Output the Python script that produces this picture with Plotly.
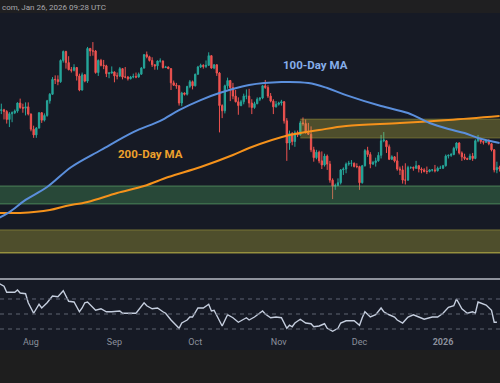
import math
import pandas as pd
import plotly.graph_objects as go

# ---------------- daily candles (Jul 20 2025 .. Jan 22 2026) ----------------
opens = [
    3590, 3755, 3765, 3740, 3620, 3705, 3720, 3745, 3870, 3800, 3790, 3810,
    3700, 3480, 3400, 3495, 3720, 3610, 3680, 3905, 4010, 4260, 4255, 4220, 4600, 4770, 4560, 4430,
    4420, 4470, 4320, 4080, 4340, 4230, 4830, 4780, 4780, 4380, 4600, 4510, 4500, 4360, 4370,
    4390, 4320, 4320, 4450, 4300, 4300, 4270, 4300, 4310, 4300, 4350, 4460, 4710, 4670, 4600,
    4520, 4500, 4590, 4590, 4470, 4480, 4450, 4200, 4160, 4150, 3870, 4030, 4010, 4140, 4220,
    4150, 4350, 4480, 4510, 4490, 4510, 4690, 4460, 4520, 4370, 3830, 3750, 4150, 4240, 4120,
    3980, 3890, 3830, 3890, 3980, 3980, 3870, 3800, 3860, 3930, 3950, 4150, 4120, 3980, 3900, 3810,
    3850, 3870, 3890, 3600, 3290, 3420, 3310, 3430, 3400, 3570, 3560, 3430, 3410, 3200, 3100,
    3170, 3060, 3010, 3120, 3020, 2830, 2760, 2770, 2800, 2950, 2960, 3020, 3030, 3030, 2990,
    2990, 2800, 3000, 3190, 3140, 3020, 3040, 3060, 3130, 3320, 3320, 3240, 3080, 3110, 3060,
    2960, 2950, 2830, 2830, 2980, 2980, 2970, 3000, 2960, 2950, 2930, 2930, 2950, 2950, 2940, 2970,
    2970, 3000, 3120, 3130, 3140, 3220, 3290, 3160, 3110, 3090, 3080, 3120, 3090, 3320, 3350,
    3310, 3300, 3310, 3280, 3200, 2950, 2980,
]
highs = [
    3780, 3860, 3780, 3760, 3730, 3740, 3770, 3880, 3940, 3860, 3880, 3880,
    3710, 3530, 3510, 3730, 3730, 3710, 3920, 4030, 4300, 4330, 4330, 4620, 4790, 4785, 4680, 4480,
    4530, 4480, 4360, 4380, 4350, 4860, 4840, 4956, 4800, 4620, 4630, 4610, 4520, 4390, 4490,
    4400, 4380, 4480, 4460, 4480, 4320, 4320, 4360, 4380, 4380, 4480, 4720, 4770, 4690, 4660,
    4530, 4600, 4640, 4600, 4500, 4490, 4460, 4240, 4200, 4160, 4050, 4040, 4150, 4250, 4240,
    4360, 4500, 4540, 4530, 4600, 4755, 4700, 4530, 4530, 4390, 3850, 4170, 4290, 4250, 4200,
    4080, 3960, 3920, 4020, 4090, 4100, 3930, 3890, 3960, 3960, 4160, 4250, 4160, 4030, 3930, 3900,
    3890, 3920, 3900, 3640, 3460, 3440, 3460, 3460, 3600, 3650, 3620, 3570, 3520, 3240, 3200,
    3190, 3180, 3150, 3140, 3060, 2850, 2790, 2850, 2960, 2980, 3040, 3060, 3070, 3040, 3030,
    3000, 3010, 3210, 3240, 3170, 3060, 3100, 3170, 3400, 3440, 3330, 3270, 3130, 3120, 3170,
    2990, 3000, 3030, 3000, 2990, 2990, 3060, 3010, 2980, 2970, 2990, 2960, 2960, 3010, 2990, 3000,
    3010, 3140, 3140, 3160, 3240, 3300, 3300, 3180, 3150, 3100, 3150, 3160, 3340, 3400, 3360,
    3320, 3330, 3340, 3290, 3210, 3050, 3000,
]
lows = [
    3570, 3700, 3620, 3560, 3510, 3580, 3700, 3720, 3780, 3720, 3680, 3680,
    3450, 3360, 3360, 3490, 3570, 3590, 3660, 3860, 4000, 4180, 4160, 4200, 4560, 4450, 4420, 4380,
    4400, 4240, 4060, 4070, 4210, 4200, 4680, 4690, 4360, 4320, 4490, 4440, 4300, 4280, 4360,
    4210, 4260, 4300, 4260, 4280, 4240, 4260, 4280, 4280, 4290, 4340, 4450, 4640, 4580, 4480,
    4430, 4430, 4560, 4450, 4460, 4440, 4080, 4150, 4100, 3830, 3820, 3990, 3990, 4110, 4090,
    4140, 4340, 4460, 4450, 4460, 4500, 4450, 4440, 4320, 3435, 3640, 3710, 4100, 3900, 3930,
    3880, 3690, 3820, 3850, 3930, 3800, 3700, 3780, 3850, 3900, 3930, 4100, 3950, 3880, 3700, 3800,
    3830, 3830, 3560, 3060, 3200, 3260, 3240, 3370, 3390, 3530, 3420, 3400, 3170, 3050, 3080,
    3030, 2960, 2990, 2950, 2800, 2620, 2720, 2760, 2780, 2890, 2910, 3000, 2990, 2980, 2970,
    2720, 2790, 2990, 3110, 2970, 3010, 2990, 3050, 3090, 3300, 3160, 3070, 3070, 3040, 2940,
    2890, 2790, 2780, 2820, 2960, 2940, 2960, 2920, 2910, 2920, 2900, 2920, 2930, 2920, 2930, 2960,
    2960, 2990, 3090, 3110, 3130, 3190, 3140, 3060, 3070, 3070, 3070, 3060, 3080, 3300, 3280,
    3270, 3290, 3260, 3180, 2920, 2910, 2930,
]
closes = [
    3755, 3765, 3740, 3620, 3705, 3720, 3745, 3870, 3800, 3790, 3810, 3700,
    3480, 3400, 3495, 3720, 3610, 3680, 3905, 4010, 4260, 4255, 4220, 4600, 4770, 4560, 4430, 4420,
    4470, 4320, 4080, 4340, 4230, 4830, 4780, 4780, 4380, 4600, 4510, 4500, 4360, 4370, 4390,
    4320, 4320, 4450, 4300, 4300, 4270, 4300, 4310, 4300, 4350, 4460, 4710, 4670, 4600, 4520,
    4500, 4590, 4590, 4470, 4480, 4450, 4200, 4160, 4150, 3870, 4030, 4010, 4140, 4220, 4150,
    4350, 4480, 4510, 4490, 4510, 4690, 4460, 4520, 4370, 3830, 3750, 4150, 4240, 4120, 3980,
    3890, 3830, 3890, 3980, 3980, 3870, 3800, 3860, 3930, 3950, 4150, 4120, 3980, 3900, 3810, 3850,
    3870, 3890, 3600, 3290, 3420, 3310, 3430, 3400, 3570, 3560, 3430, 3410, 3200, 3100, 3170,
    3060, 3010, 3120, 3020, 2830, 2760, 2770, 2800, 2950, 2960, 3020, 3030, 3030, 2990, 2990,
    2800, 3000, 3190, 3140, 3020, 3040, 3060, 3130, 3320, 3330, 3240, 3080, 3110, 3060, 2960,
    2950, 2830, 2830, 2980, 2980, 2970, 3000, 2960, 2950, 2930, 2930, 2950, 2950, 2940, 2970, 2970,
    3000, 3120, 3130, 3140, 3220, 3290, 3160, 3110, 3090, 3080, 3120, 3090, 3320, 3350, 3310,
    3300, 3310, 3280, 3200, 2950, 2980, 2960,
]
start_date = "2025-07-20"

# ---------------- moving averages ----------------
ma100_dates = ["2025-07-20", "2025-07-24", "2025-07-30", "2025-08-07", "2025-08-16", "2025-08-27",
               "2025-09-08", "2025-09-18", "2025-09-25", "2025-10-03", "2025-10-10", "2025-10-21",
               "2025-11-02", "2025-11-12", "2025-11-19", "2025-11-26", "2025-12-09", "2025-12-19",
               "2025-12-27", "2026-01-03", "2026-01-09", "2026-01-14", "2026-01-22"]
ma100_values = [2427, 2486, 2611, 2752, 2985, 3198, 3440, 3600, 3761, 3917, 4030, 4163,
                4214, 4197, 4113, 3997, 3823, 3716, 3568, 3482, 3426, 3357, 3290]

ma200_dates = ["2025-07-20", "2025-07-28", "2025-08-08", "2025-08-14", "2025-08-22", "2025-09-02",
               "2025-09-12", "2025-09-21", "2025-10-03", "2025-10-15", "2025-10-21", "2025-11-05",
               "2025-11-16", "2025-11-26", "2025-12-16", "2026-01-03", "2026-01-22"]
ma200_values = [2477, 2477, 2507, 2548, 2590, 2686, 2763, 2866, 2985, 3134, 3224, 3398,
                3468, 3525, 3568, 3612, 3671]

# ---------------- RSI ----------------
rsi_dates = ["2025-07-20", "2025-07-22", "2025-07-23", "2025-07-26", "2025-07-27", "2025-07-28",
             "2025-07-30", "2025-07-31", "2025-08-02", "2025-08-04", "2025-08-05", "2025-08-07",
             "2025-08-09", "2025-08-11", "2025-08-13", "2025-08-15", "2025-08-17", "2025-08-19",
             "2025-08-20", "2025-08-21", "2025-08-22", "2025-08-24", "2025-08-25", "2025-08-27",
             "2025-08-29", "2025-08-31", "2025-09-03", "2025-09-04", "2025-09-08", "2025-09-09",
             "2025-09-12", "2025-09-13", "2025-09-15", "2025-09-17", "2025-09-19", "2025-09-20",
             "2025-09-22", "2025-09-25", "2025-09-26", "2025-09-28", "2025-09-29", "2025-09-30",
             "2025-10-02", "2025-10-04", "2025-10-06", "2025-10-07", "2025-10-08", "2025-10-11",
             "2025-10-13", "2025-10-15", "2025-10-17", "2025-10-20", "2025-10-21", "2025-10-23",
             "2025-10-26", "2025-10-27", "2025-10-29", "2025-10-31", "2025-11-02", "2025-11-04",
             "2025-11-05", "2025-11-06", "2025-11-07", "2025-11-09", "2025-11-11", "2025-11-13",
             "2025-11-14", "2025-11-16", "2025-11-18", "2025-11-19", "2025-11-21", "2025-11-23",
             "2025-11-24", "2025-11-26", "2025-11-29", "2025-12-01", "2025-12-02", "2025-12-03",
             "2025-12-05", "2025-12-07", "2025-12-09", "2025-12-10", "2025-12-12", "2025-12-14",
             "2025-12-15", "2025-12-17", "2025-12-19", "2025-12-21", "2025-12-23", "2025-12-25",
             "2025-12-28", "2025-12-30", "2026-01-01", "2026-01-03", "2026-01-05", "2026-01-06",
             "2026-01-08", "2026-01-10", "2026-01-12", "2026-01-13", "2026-01-14", "2026-01-15",
             "2026-01-17", "2026-01-19", "2026-01-20", "2026-01-21"]
rsi_values = [91, 87, 79, 79, 82, 78, 77, 65, 51, 63, 58, 65,
              74, 73, 81, 67, 66, 53, 58, 65, 66, 59, 55, 57,
              53, 53, 54, 51, 51, 51, 65, 61, 57, 58, 53, 51,
              42, 31, 38, 42, 46, 46, 58, 58, 63, 54, 55, 34,
              49, 45, 39, 45, 42, 46, 54, 50, 45, 46, 45, 31,
              35, 33, 38, 43, 38, 37, 33, 34, 37, 31, 27, 31,
              38, 41, 41, 35, 45, 53, 46, 49, 58, 53, 49, 46,
              42, 38, 46, 49, 46, 43, 46, 46, 51, 59, 61, 70,
              57, 51, 53, 51, 66, 65, 62, 55, 39, 39]
rsi_levels = [70, 50, 30]

# ---------------- zones ----------------
green_zone = [2569, 2763]
lower_yellow_zone = [2106, 2312]
upper_yellow_zone = [3357, 3626]
upper_zone_start = "2025-11-09"

# ---------------- labels ----------------
month_ticks = ["2025-08-01", "2025-09-01", "2025-10-01", "2025-11-01", "2025-12-01", "2026-01-01"]
month_labels = ["Aug", "Sep", "Oct", "Nov", "Dec", "<b>2026</b>"]
header_text = "com, Jan 26, 2026 09:28 UTC"

BG = "#161a25"
UP = "#26a69a"
DOWN = "#ef5350"
BLUE = "#5b8fdc"
ORANGE = "#f5921b"

dates = pd.date_range(start_date, periods=len(closes), freq="D")
x_lo = pd.Timestamp("2025-07-20 12:15")
x_hi = pd.Timestamp("2026-01-22 03:40")
far_lo = pd.Timestamp("2025-07-01")
far_hi = pd.Timestamp("2026-02-15")

fig = go.Figure()
fig.add_trace(go.Candlestick(
    x=dates, open=opens, high=highs, low=lows, close=closes,
    increasing=dict(line=dict(color=UP, width=1), fillcolor=UP),
    decreasing=dict(line=dict(color=DOWN, width=1), fillcolor=DOWN),
    whiskerwidth=0, hoverinfo="skip", showlegend=False, xaxis="x", yaxis="y"))


def add_zone(x0, x1, band, fill, top_col, bot_col):
    lo, hi = band
    fig.add_trace(go.Scatter(x=[x0, x1, x1, x0], y=[lo, lo, hi, hi], fill="toself",
                             fillcolor=fill, mode="lines", line=dict(width=0),
                             hoverinfo="skip", showlegend=False))
    fig.add_trace(go.Scatter(x=[x0, x1], y=[hi, hi], mode="lines",
                             line=dict(color=top_col, width=1), hoverinfo="skip", showlegend=False))
    fig.add_trace(go.Scatter(x=[x0, x1], y=[lo, lo], mode="lines",
                             line=dict(color=bot_col, width=1), hoverinfo="skip", showlegend=False))


add_zone(far_lo, far_hi, green_zone, "rgba(80,170,95,0.32)", "rgba(110,190,120,0.55)", "rgba(110,190,120,0.55)")
add_zone(far_lo, far_hi, lower_yellow_zone, "rgba(200,190,60,0.32)", "rgba(200,190,70,0.45)", "rgba(215,205,80,0.85)")
add_zone(pd.Timestamp(upper_zone_start), far_hi, upper_yellow_zone, "rgba(200,190,60,0.32)", "rgba(200,190,70,0.35)", "rgba(200,190,70,0.35)")

fig.add_trace(go.Scatter(x=ma200_dates, y=ma200_values, mode="lines", line=dict(color=ORANGE, width=2, shape="spline", smoothing=1.0),
                         hoverinfo="skip", showlegend=False))
fig.add_trace(go.Scatter(x=ma100_dates, y=ma100_values, mode="lines", line=dict(color=BLUE, width=2, shape="spline", smoothing=1.0),
                         hoverinfo="skip", showlegend=False))

fig.add_trace(go.Scatter(x=rsi_dates, y=rsi_values, mode="lines", line=dict(color="#c5cede", width=1.4),
                         hoverinfo="skip", showlegend=False, xaxis="x2", yaxis="y2"))

shapes = [
    dict(type="rect", xref="paper", yref="paper", x0=0, x1=1, y0=0.966, y1=1.0,
         fillcolor="#1f1f21", line=dict(width=0), layer="above"),
    dict(type="rect", xref="paper", yref="paper", x0=0, x1=1, y0=0, y1=0.0862,
         fillcolor="#1e1e1e", line=dict(width=0), layer="above"),
    dict(type="line", xref="paper", yref="paper", x0=0, x1=1, y0=0.2715, y1=0.2715,
         line=dict(color="#b9bdc6", width=1.5)),
]
for lv in rsi_levels:
    shapes.append(dict(type="line", xref="paper", yref="y2", x0=0, x1=1, y0=lv, y1=lv,
                       line=dict(color="#5f6473", width=1, dash="4px,4px")))

annotations = [
    dict(text="<b>100-Day MA</b>", xref="paper", yref="paper", x=0.63, y=0.830,
         xanchor="center", yanchor="middle",
         showarrow=False, font=dict(family="Roboto", size=11.5, color="#86aeea")),
    dict(text="<b>200-Day MA</b>", xref="paper", yref="paper", x=0.30, y=0.598,
         xanchor="center", yanchor="middle",
         showarrow=False, font=dict(family="Roboto", size=11.5, color="#eea12c")),
    dict(text=header_text, xref="paper", yref="paper", x=0.0, y=0.981, xanchor="left",
         yanchor="middle", showarrow=False, font=dict(family="Roboto", size=8, color="#a9a9ad")),
]

fig.update_layout(
    width=500, height=383, margin=dict(l=0, r=0, t=0, b=0),
    paper_bgcolor=BG, plot_bgcolor=BG, showlegend=False,
    xaxis=dict(domain=[0, 1], range=[x_lo, x_hi], anchor="y", visible=False,
               rangeslider=dict(visible=False), type="date"),
    yaxis=dict(domain=[0.2742, 0.9661], type="log", range=[math.log10(1902), math.log10(5578)],
               visible=False, anchor="x"),
    xaxis2=dict(domain=[0, 1], range=[x_lo, x_hi], anchor="y2", type="date",
                tickvals=month_ticks, ticktext=month_labels, showgrid=False, zeroline=False,
                showline=False, ticks="", tickfont=dict(family="Roboto", size=9, color="#8b909c")),
    yaxis2=dict(domain=[0.1253, 0.2689], range=[22, 95.3], visible=False, anchor="x2"),
    shapes=shapes, annotations=annotations,
)

fig.write_html("out.html", config={"displayModeBar": False},
               post_script="document.body.style.margin='0';")
